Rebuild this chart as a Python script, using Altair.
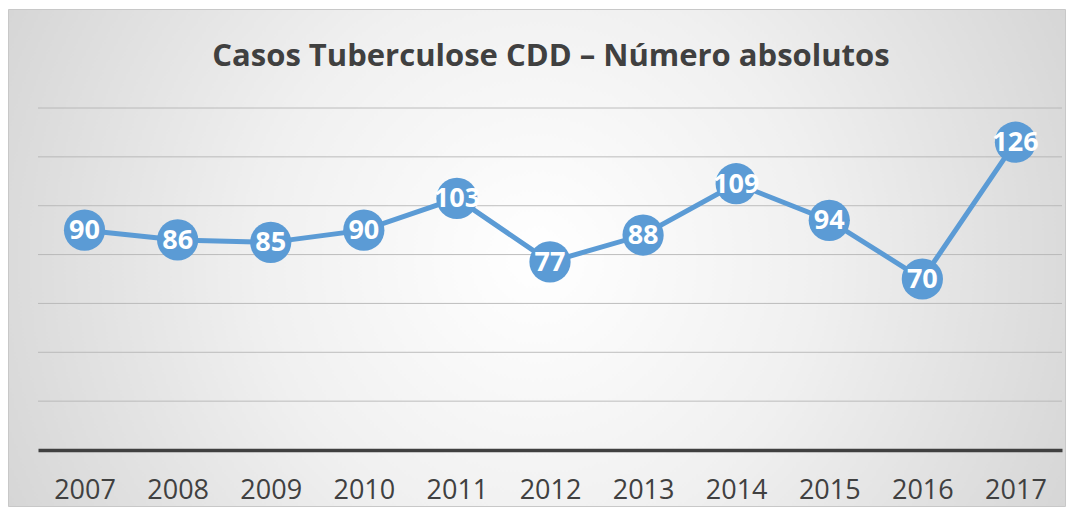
import altair as alt
import pandas as pd

years = ["2007", "2008", "2009", "2010", "2011", "2012", "2013", "2014", "2015", "2016", "2017"]
cases = [90, 86, 85, 90, 103, 77, 88, 109, 94, 70, 126]
grid_values = [20, 40, 60, 80, 100, 120, 140]
title_text = "Casos Tuberculose CDD – Número absolutos"

df = pd.DataFrame({"year": years, "cases": cases})
gdf = pd.DataFrame({"g": grid_values})

W, H = 1024, 342
PL, PT, PR, PB = 30, 100, 4, 57

bg = alt.Chart(pd.DataFrame({"a": [0]})).mark_rect(
    color=alt.Gradient(
        gradient="radial",
        stops=[alt.GradientStop(color="#ffffff", offset=0),
               alt.GradientStop(color="#f0f0f0", offset=0.35),
               alt.GradientStop(color="#c4c4c4", offset=1)],
        x1=0.5, y1=0.5, r1=0, x2=0.5, y2=0.5, r2=0.75,
    ),
    stroke="#c8c8c8", strokeWidth=1,
).encode(
    x=alt.value(-PL + 0.5), x2=alt.value(W + PR - 0.5),
    y=alt.value(-PT + 1.5), y2=alt.value(H + PB - 0.5),
)

yscale = alt.Scale(domain=[0, 140], nice=False)

grid = alt.Chart(gdf).mark_rule(color="#b3b3b3", strokeWidth=1, opacity=0.85).encode(
    y=alt.Y("g:Q", scale=yscale, axis=None),
)

base = alt.Chart(df).encode(
    x=alt.X("year:N", sort=years, title=None,
            scale=alt.Scale(paddingInner=0, paddingOuter=0),
            axis=alt.Axis(labelAngle=0, ticks=False, domainColor="#404040", domainWidth=3.5,
                          labelFont="Open Sans", labelFontSize=27, labelColor="#404040",
                          labelPadding=27, grid=False, zindex=1)),
    y=alt.Y("cases:Q", title=None, scale=yscale, axis=None),
)

line = base.mark_line(color="#5B9BD5", strokeWidth=5)
pts = base.mark_circle(color="#5B9BD5", size=1700, opacity=1)
labels = base.mark_text(color="white", font="Open Sans", fontWeight="bold", fontSize=27,
                        baseline="middle", align="center", dy=1).encode(text="cases:Q")
title = alt.Chart(pd.DataFrame({"t": [title_text]})).mark_text(
    font="Open Sans", fontWeight="bold", fontSize=31, color="#404040",
    align="center", baseline="middle",
).encode(x=alt.value(W / 2 + 1), y=alt.value(-51), text="t:N")

chart = alt.layer(bg, grid, line, pts, labels, title).properties(
    width=W, height=H,
    autosize=alt.AutoSizeParams(type="none"),
    padding={"left": PL, "top": PT, "right": PR, "bottom": PB},
).configure_view(stroke=None).configure(background="white")

chart.save("out.html", embed_options={"renderer": "svg", "actions": False})
